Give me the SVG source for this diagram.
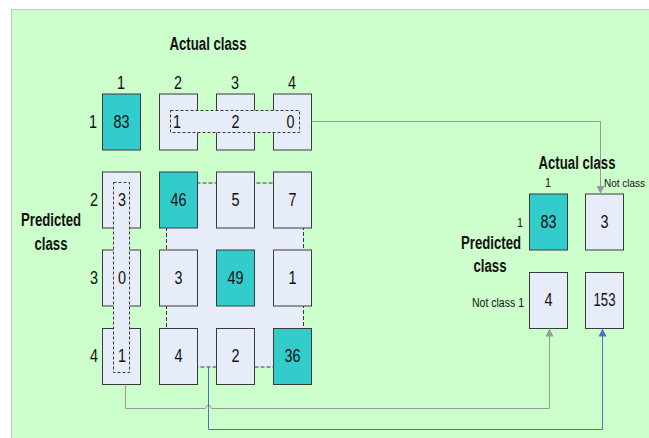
<svg xmlns="http://www.w3.org/2000/svg" width="649" height="438" viewBox="0 0 649 438">
<style>
text{font-family:"Liberation Sans",Arial,sans-serif;fill:#111}
.num{font-size:18px;text-anchor:middle}
.title{font-size:18px;font-weight:bold;text-anchor:middle}
.small{font-size:12.5px}
.cell{fill:#E6ECF8;stroke:#3a3a3a;stroke-width:1}
.hit{fill:#33CCCC;stroke:#3a3a3a;stroke-width:1}
.grp{fill:#E6ECF8;stroke:#3a3a3a;stroke-width:1;stroke-dasharray:4,2}
.grpd{fill:#E6ECF8;stroke:#3a3a3a;stroke-width:1;stroke-dasharray:3,2}
.cg{fill:none;stroke:#999;stroke-width:1}
.cb{fill:none;stroke:#4a72c4;stroke-width:1}
</style>
<defs>
<marker id="ag" viewBox="0 0 10 10" refX="10" refY="5" markerWidth="8" markerHeight="8" markerUnits="userSpaceOnUse" orient="auto"><path d="M0,0L10,5L0,10z" fill="#999"/></marker>
<marker id="ab" viewBox="0 0 10 10" refX="10" refY="5" markerWidth="8" markerHeight="8" markerUnits="userSpaceOnUse" orient="auto"><path d="M0,0L10,5L0,10z" fill="#4a72c4"/></marker>
</defs>
<rect x="0" y="0" width="649" height="438" fill="#fff"/>
<rect x="11.5" y="9.5" width="640" height="432" fill="#CCFFCC" stroke="#c8c8c8" stroke-width="1"/>

<g id="labels">
<text class="title" x="208" y="50" textLength="77" lengthAdjust="spacingAndGlyphs">Actual class</text>
<text class="num" x="121" y="89" textLength="8" lengthAdjust="spacingAndGlyphs">1</text>
<text class="num" x="178" y="89" textLength="8" lengthAdjust="spacingAndGlyphs">2</text>
<text class="num" x="235" y="89" textLength="8" lengthAdjust="spacingAndGlyphs">3</text>
<text class="num" x="292" y="89" textLength="8" lengthAdjust="spacingAndGlyphs">4</text>
<text class="num" x="93" y="128" textLength="8" lengthAdjust="spacingAndGlyphs">1</text>
<text class="num" x="94" y="206" textLength="8" lengthAdjust="spacingAndGlyphs">2</text>
<text class="num" x="94" y="284" textLength="8" lengthAdjust="spacingAndGlyphs">3</text>
<text class="num" x="94" y="362" textLength="8" lengthAdjust="spacingAndGlyphs">4</text>
<text class="title" x="51" y="226" textLength="60" lengthAdjust="spacingAndGlyphs">Predicted</text>
<text class="title" x="51" y="250" textLength="33" lengthAdjust="spacingAndGlyphs">class</text>
</g>

<g id="group-mid"><rect class="grp" x="166.5" y="183" width="137" height="184"/></g>
<g id="group-row1"><rect class="cell" x="159.5" y="94" width="38" height="56"/><rect class="cell" x="216.5" y="94" width="38" height="56"/><rect class="cell" x="273.5" y="94" width="38" height="56"/><rect class="grpd" x="170.5" y="110.5" width="129" height="22"/></g>

<g id="c11"><rect class="hit" x="102.5" y="94" width="38" height="56"/><text class="num" x="121.5" y="128" textLength="16" lengthAdjust="spacingAndGlyphs">83</text></g>
<g id="c12"><text class="num" x="177" y="128" textLength="8" lengthAdjust="spacingAndGlyphs">1</text></g>
<g id="c13"><text class="num" x="235.5" y="128" textLength="8" lengthAdjust="spacingAndGlyphs">2</text></g>
<g id="c14"><text class="num" x="290.5" y="128" textLength="8" lengthAdjust="spacingAndGlyphs">0</text></g>

<g id="group-col1"><rect class="cell" x="102.5" y="172" width="38" height="56"/><rect class="cell" x="102.5" y="250" width="38" height="56"/><rect class="cell" x="102.5" y="328.5" width="38" height="56"/><rect class="grpd" x="113.5" y="182.5" width="16" height="190"/></g>
<g id="c21"><text class="num" x="122" y="206" textLength="8" lengthAdjust="spacingAndGlyphs">3</text></g>
<g id="c31"><text class="num" x="122" y="284" textLength="8" lengthAdjust="spacingAndGlyphs">0</text></g>
<g id="c41"><text class="num" x="122" y="362" textLength="8" lengthAdjust="spacingAndGlyphs">1</text></g>

<g id="c22"><rect class="hit" x="159.5" y="172" width="38" height="56"/><text class="num" x="178.5" y="206" textLength="16" lengthAdjust="spacingAndGlyphs">46</text></g>
<g id="c23"><rect class="cell" x="216.5" y="172" width="38" height="56"/><text class="num" x="235.5" y="206" textLength="8" lengthAdjust="spacingAndGlyphs">5</text></g>
<g id="c24"><rect class="cell" x="273.5" y="172" width="38" height="56"/><text class="num" x="292.5" y="206" textLength="8" lengthAdjust="spacingAndGlyphs">7</text></g>
<g id="c32"><rect class="cell" x="159.5" y="250" width="38" height="56"/><text class="num" x="178.5" y="284" textLength="8" lengthAdjust="spacingAndGlyphs">3</text></g>
<g id="c33"><rect class="hit" x="216.5" y="250" width="38" height="56"/><text class="num" x="235.5" y="284" textLength="16" lengthAdjust="spacingAndGlyphs">49</text></g>
<g id="c34"><rect class="cell" x="273.5" y="250" width="38" height="56"/><text class="num" x="292.5" y="284" textLength="8" lengthAdjust="spacingAndGlyphs">1</text></g>
<g id="c42"><rect class="cell" x="159.5" y="328.5" width="38" height="56"/><text class="num" x="178.5" y="362" textLength="8" lengthAdjust="spacingAndGlyphs">4</text></g>
<g id="c43"><rect class="cell" x="216.5" y="328.5" width="38" height="56"/><text class="num" x="235.5" y="362" textLength="8" lengthAdjust="spacingAndGlyphs">2</text></g>
<g id="c44"><rect class="hit" x="273.5" y="328.5" width="38" height="56"/><text class="num" x="292.5" y="362" textLength="16" lengthAdjust="spacingAndGlyphs">36</text></g>

<g id="labels-right">
<text class="title" x="577" y="169" textLength="77" lengthAdjust="spacingAndGlyphs">Actual class</text>
<text class="small" x="548" y="187" text-anchor="middle" textLength="6" lengthAdjust="spacingAndGlyphs">1</text>
<text x="604" y="187" style="font-size:10.5px" textLength="41" lengthAdjust="spacingAndGlyphs">Not class</text>
<text class="small" x="523" y="227" text-anchor="end" textLength="6" lengthAdjust="spacingAndGlyphs">1</text>
<text class="title" x="491" y="249" textLength="60" lengthAdjust="spacingAndGlyphs">Predicted</text>
<text class="title" x="490" y="272" textLength="33" lengthAdjust="spacingAndGlyphs">class</text>
<text class="small" x="524" y="307" text-anchor="end" textLength="52" lengthAdjust="spacingAndGlyphs">Not class 1</text>
</g>

<g id="r11"><rect class="hit" x="529.5" y="194" width="38" height="56"/><text class="num" x="548.5" y="228" textLength="16" lengthAdjust="spacingAndGlyphs">83</text></g>
<g id="r12"><rect class="cell" x="585.5" y="194" width="38" height="56"/><text class="num" x="604.5" y="228" textLength="8" lengthAdjust="spacingAndGlyphs">3</text></g>
<g id="r21"><rect class="cell" x="529.5" y="272.5" width="38" height="56"/><text class="num" x="548.5" y="306" textLength="8" lengthAdjust="spacingAndGlyphs">4</text></g>
<g id="r22"><rect class="cell" x="585.5" y="272.5" width="38" height="56"/><text class="num" x="604.5" y="306" textLength="22" lengthAdjust="spacingAndGlyphs">153</text></g>

<g id="connectors">
<path class="cg" d="M311.5,121.5H600.5V194" marker-end="url(#ag)"/>
<path class="cg" d="M125.5,384.5V408.5H205.5Q208.5,401 211.5,408.5H549.5V328.5" marker-end="url(#ag)"/>
<path class="cb" d="M208.5,367V429.5H602.5V328.5" marker-end="url(#ab)"/>
</g>
</svg>
